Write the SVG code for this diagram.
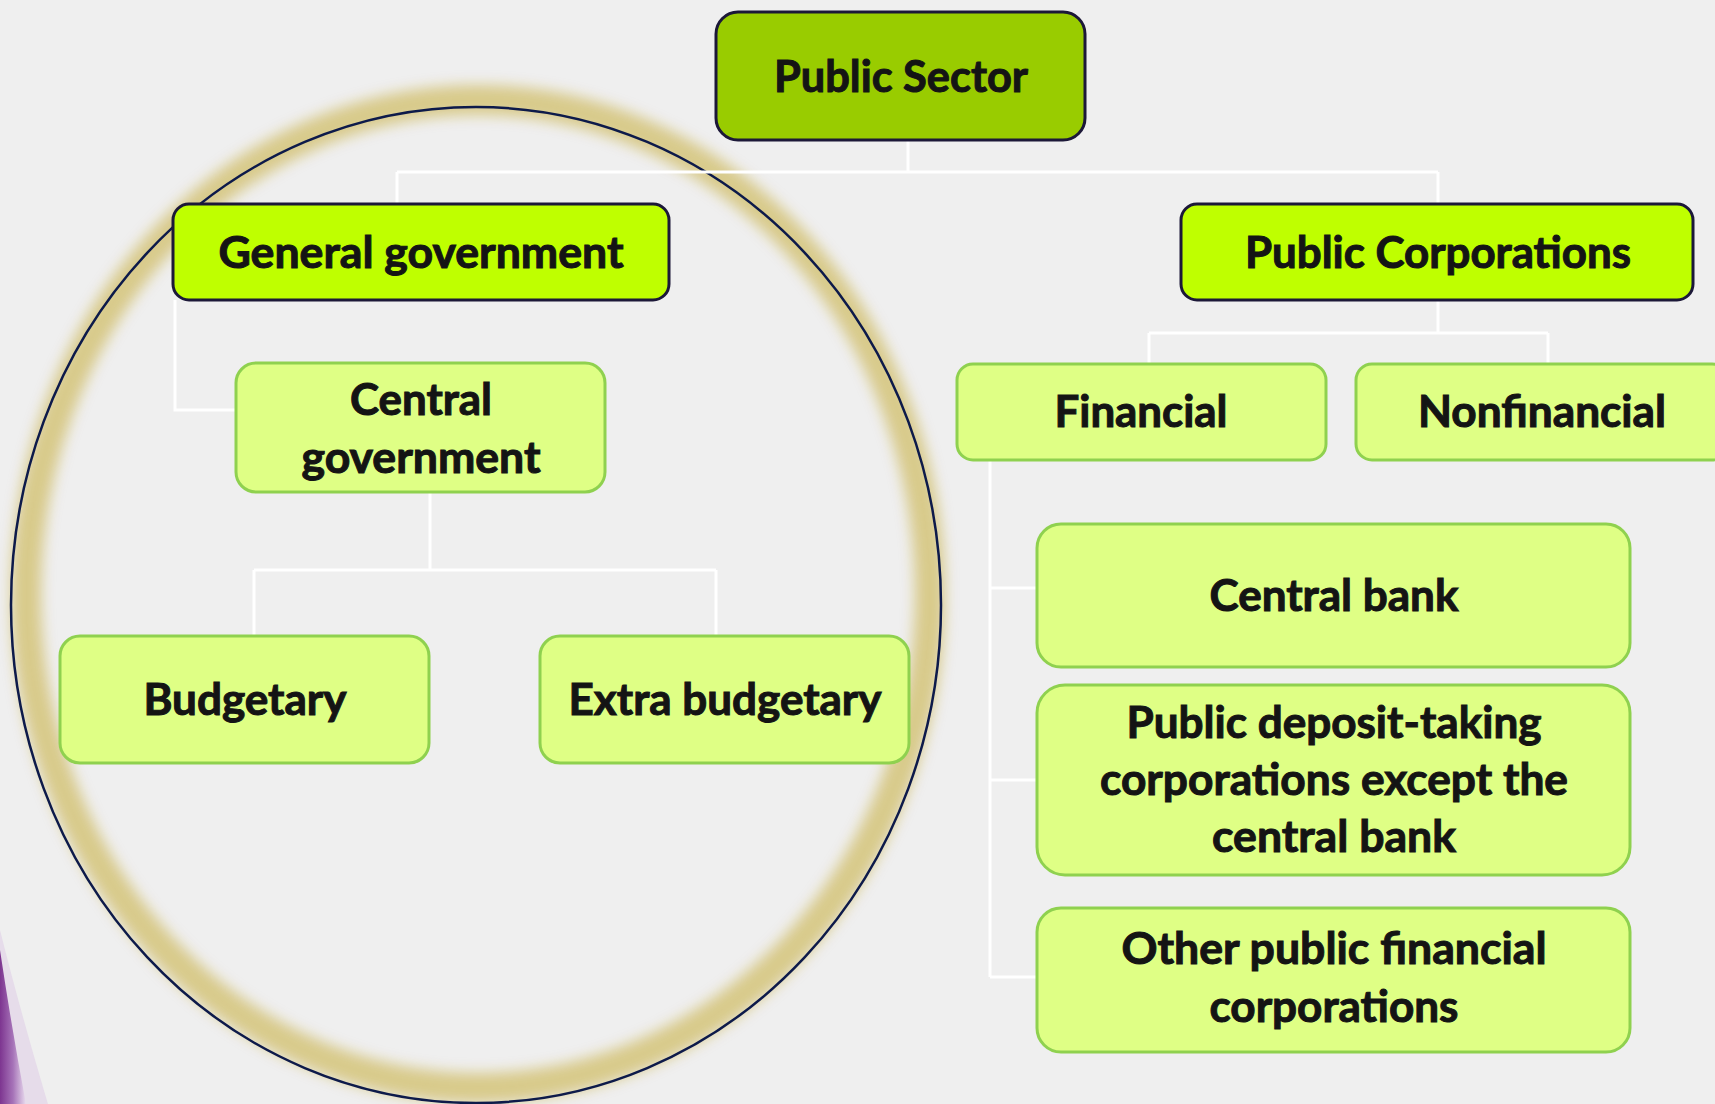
<svg xmlns="http://www.w3.org/2000/svg" width="1715" height="1104" viewBox="0 0 1715 1104">
<defs>
<style>
.dark{fill:#99CC00;stroke:#1c1838;stroke-width:3}
.lime{fill:#BFFF00;stroke:#1c1838;stroke-width:3}
.light{fill:#DFFF85;stroke:#8FD14F;stroke-width:3}
.t{font-family:Lato,"Open Sans","Liberation Sans",sans-serif;font-weight:700;font-size:43px;fill:#141414;stroke:#141414;stroke-width:1;text-anchor:middle}
.conn{stroke:#ffffff;stroke-width:3;fill:none}
</style>
<filter id="blur" x="-20%" y="-20%" width="140%" height="140%"><feGaussianBlur stdDeviation="7"/></filter>
<linearGradient id="purp" x1="0" y1="0" x2="1" y2="0">
<stop offset="0" stop-color="#7d3590"/><stop offset="0.5" stop-color="#a673b8"/><stop offset="1" stop-color="#e9dcee"/>
</linearGradient>
</defs>
<rect width="1715" height="1104" fill="#efefef"/>
<path d="M0,930 Q20,1010 48,1104 L0,1104 Z" fill="#e6dcea"/>
<path d="M0,950 Q12,1030 26,1104 L0,1104 Z" fill="url(#purp)"/>
<g id="halo">
<ellipse cx="478" cy="594" rx="452" ry="494" fill="none" stroke="#d6c680" stroke-width="30" filter="url(#blur)" opacity="0.9"/>
<ellipse cx="476" cy="605" rx="465" ry="498" fill="none" stroke="#0d1a4a" stroke-width="2.5"/>
</g>
<g id="connectors">
<path class="conn" d="M908,140 V172 M397,172 H1438 M397,172 V203 M1438,172 V203"/>
<path class="conn" d="M175,300 V410 H236"/>
<path class="conn" d="M430,492 V570 M254,570 H716 M254,570 V636 M716,570 V636"/>
<path class="conn" d="M1438,300 V333 M1149,333 H1548 M1149,333 V364 M1548,333 V364"/>
<path class="conn" d="M990,460 V977 M990,588 H1037 M990,780 H1037 M990,977 H1037"/>
</g>
<g id="public-sector"><rect class="dark" x="716" y="12" width="369" height="128" rx="22"/><text class="t" x="901" y="92" textLength="254" lengthAdjust="spacingAndGlyphs">Public Sector</text></g>
<g id="general-government"><rect class="lime" x="173" y="204" width="496" height="96" rx="16"/><text class="t" x="421" y="268" textLength="405" lengthAdjust="spacingAndGlyphs">General government</text></g>
<g id="public-corporations"><rect class="lime" x="1181" y="204" width="512" height="96" rx="16"/><text class="t" x="1438" y="268" textLength="386" lengthAdjust="spacingAndGlyphs">Public Corporations</text></g>
<g id="central-government"><rect class="light" x="236" y="363" width="369" height="129" rx="20"/><text class="t" x="421" y="415" textLength="142" lengthAdjust="spacingAndGlyphs">Central</text><text class="t" x="421" y="473" textLength="239" lengthAdjust="spacingAndGlyphs">government</text></g>
<g id="budgetary"><rect class="light" x="60" y="636" width="369" height="127" rx="20"/><text class="t" x="245" y="715" textLength="203" lengthAdjust="spacingAndGlyphs">Budgetary</text></g>
<g id="extra-budgetary"><rect class="light" x="540" y="636" width="369" height="127" rx="20"/><text class="t" x="725" y="715" textLength="313" lengthAdjust="spacingAndGlyphs">Extra budgetary</text></g>
<g id="financial"><rect class="light" x="957" y="364" width="369" height="96" rx="16"/><text class="t" x="1141" y="427" textLength="173" lengthAdjust="spacingAndGlyphs">Financial</text></g>
<g id="nonfinancial"><rect class="light" x="1356" y="364" width="372" height="96" rx="16"/><text class="t" x="1542" y="427" textLength="248" lengthAdjust="spacingAndGlyphs">Nonfinancial</text></g>
<g id="central-bank"><rect class="light" x="1037" y="524" width="593" height="143" rx="24"/><text class="t" x="1334" y="611" textLength="249" lengthAdjust="spacingAndGlyphs">Central bank</text></g>
<g id="public-deposit-taking"><rect class="light" x="1037" y="685" width="593" height="190" rx="28"/><text class="t" x="1334" y="738" textLength="415" lengthAdjust="spacingAndGlyphs">Public deposit-taking</text><text class="t" x="1334" y="795" textLength="468" lengthAdjust="spacingAndGlyphs">corporations except the</text><text class="t" x="1334" y="852" textLength="244" lengthAdjust="spacingAndGlyphs">central bank</text></g>
<g id="other-public-financial"><rect class="light" x="1037" y="908" width="593" height="144" rx="24"/><text class="t" x="1334" y="964" textLength="425" lengthAdjust="spacingAndGlyphs">Other public financial</text><text class="t" x="1334" y="1022" textLength="249" lengthAdjust="spacingAndGlyphs">corporations</text></g>
</svg>
